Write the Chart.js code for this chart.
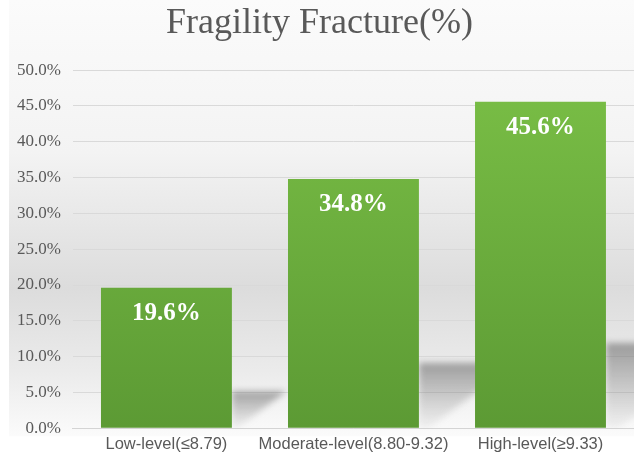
<!DOCTYPE html>
<html>
<head>
<meta charset="utf-8">
<script src="https://cdn.jsdelivr.net/npm/chart.js@4.4.1/dist/chart.umd.min.js"></script>
<style>
  html, body { margin: 0; padding: 0; background: #fff; }
  #wrap { width: 634px; height: 460px; position: relative; }
</style>
</head>
<body>
<div id="wrap"><canvas id="chart"></canvas></div>
<script>
const categories = ["Low-level(≤8.79)", "Moderate-level(8.80-9.32)", "High-level(≥9.33)"];
const fractureRates = [19.6, 34.8, 45.6];
const yMin = 0;
const yMax = 50;
const yStep = 5;

const TEXT = "#595959";

// grey panel behind the plot, darkest a little below the middle
const backdrop = {
  id: "backdrop",
  beforeDraw(chart) {
    const { ctx, width } = chart;
    const bottom = chart.chartArea.bottom + 8;
    ctx.save();
    ctx.fillStyle = "#ffffff";
    ctx.fillRect(0, 0, width, chart.height);
    const g = ctx.createLinearGradient(0, 0, 0, bottom);
    g.addColorStop(0, "#fbfbfb");
    g.addColorStop(0.35, "#f3f3f3");
    g.addColorStop(0.66, "#dcdcdc");
    g.addColorStop(0.85, "#ebebeb");
    g.addColorStop(1, "#fbfbfb");
    ctx.fillStyle = g;
    ctx.fillRect(9, 0, width - 9, bottom);
    ctx.restore();
  }
};

// slanted drop shadow to the right of each bar
const barShadow = {
  id: "barShadow",
  beforeDatasetsDraw(chart) {
    const { ctx } = chart;
    const area = chart.chartArea;
    ctx.save();
    ctx.beginPath();
    ctx.rect(area.left, area.top, area.right - area.left + 10, area.bottom - area.top);
    ctx.clip();
    chart.getDatasetMeta(0).data.forEach((bar) => {
      const right = bar.x + bar.width / 2;
      const h = (bar.base - bar.y) * 0.26;
      const top = bar.base - h;
      const g = ctx.createLinearGradient(right, top, right, bar.base);
      g.addColorStop(0, "rgba(80,80,80,0.5)");
      g.addColorStop(0.5, "rgba(110,110,110,0.3)");
      g.addColorStop(1, "rgba(140,140,140,0.08)");
      ctx.filter = "blur(3px)";
      ctx.fillStyle = g;
      ctx.beginPath();
      ctx.moveTo(right, top);
      ctx.lineTo(right + h * 1.5, top);
      ctx.lineTo(right + h * 0.15, bar.base);
      ctx.lineTo(right, bar.base);
      ctx.closePath();
      ctx.fill();
    });
    ctx.restore();
  }
};

const valueLabels = {
  id: "valueLabels",
  afterDatasetsDraw(chart) {
    const { ctx } = chart;
    ctx.save();
    ctx.font = "bold 25px 'Liberation Serif', 'Times New Roman', serif";
    ctx.fillStyle = "#ffffff";
    ctx.textAlign = "center";
    ctx.textBaseline = "middle";
    chart.getDatasetMeta(0).data.forEach((bar, i) => {
      ctx.fillText(fractureRates[i].toFixed(1) + "%", bar.x, bar.y + 26);
    });
    ctx.restore();
  }
};

const canvas = document.getElementById("chart");
new Chart(canvas, {
  type: "bar",
  data: {
    labels: categories,
    datasets: [
      {
        data: fractureRates,
        backgroundColor: (ctx) => {
          const area = ctx.chart.chartArea;
          if (!area) return "#6aaa3c";
          const g = ctx.chart.ctx.createLinearGradient(0, area.top, 0, area.bottom);
          g.addColorStop(0, "#7abf46");
          g.addColorStop(1, "#5c9a34");
          return g;
        },
        borderWidth: 0,
        barPercentage: 0.7,
        categoryPercentage: 1
      }
    ]
  },
  options: {
    responsive: true,
    maintainAspectRatio: false,
    animation: false,
    layout: { padding: { top: 2, left: 5, right: 0, bottom: 0 } },
    scales: {
      x: {
        grid: { display: false, drawTicks: false },
        border: { display: true, color: "#d4d4d4" },
        ticks: {
          color: TEXT,
          padding: 6,
          maxRotation: 0,
          minRotation: 0,
          autoSkip: false,
          font: { family: "'Liberation Sans', Arial, sans-serif", size: 16.5 }
        }
      },
      y: {
        min: yMin,
        max: yMax,
        grid: { color: "#d9d9d9", drawTicks: false },
        border: { display: false },
        ticks: {
          stepSize: yStep,
          color: TEXT,
          padding: 12,
          font: { family: "'Liberation Serif', 'Times New Roman', serif", size: 17 },
          callback: (v) => v.toFixed(1) + "%"
        }
      }
    },
    plugins: {
      legend: { display: false },
      tooltip: { enabled: false },
      title: {
        display: true,
        text: "Fragility Fracture(%)",
        color: TEXT,
        font: { family: "'Liberation Serif', 'Times New Roman', serif", size: 36, weight: "normal" },
        padding: { top: 0, bottom: 25 }
      }
    }
  },
  plugins: [backdrop, barShadow, valueLabels]
});
</script>
</body>
</html>
